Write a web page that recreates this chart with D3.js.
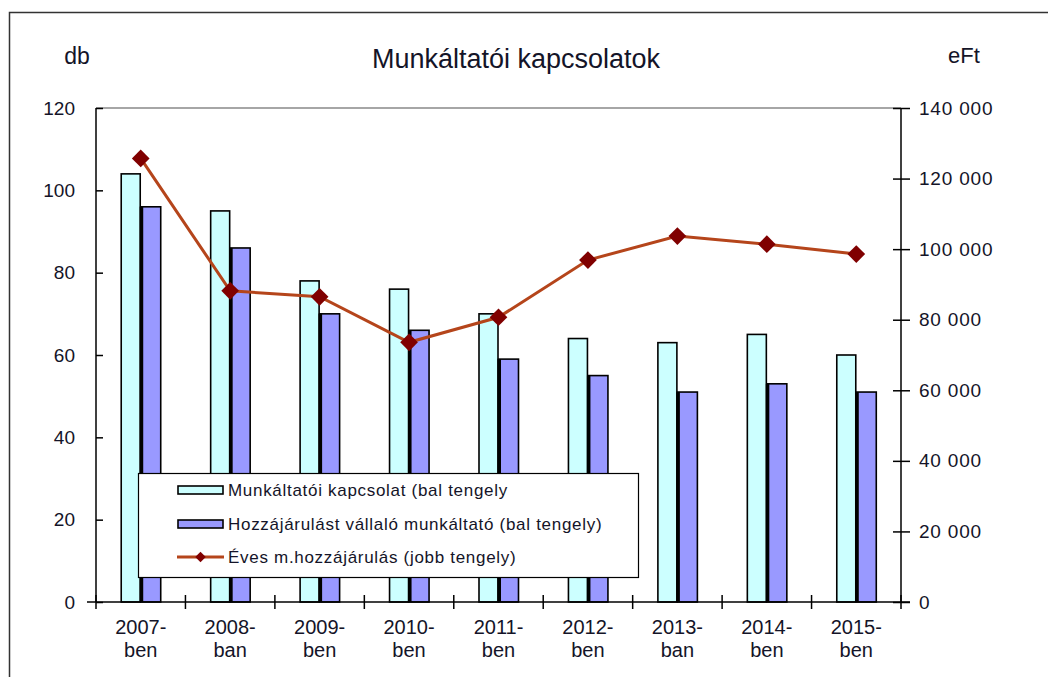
<!DOCTYPE html>
<html>
<head>
<meta charset="utf-8">
<script src="https://cdn.jsdelivr.net/npm/d3@7"></script>
<style>
  body { margin: 0; background: #fff; }
  svg { display: block; font-family: "Liberation Sans", Arial, sans-serif; }
</style>
</head>
<body>
<svg id="chart"></svg>
<script>
// data
let categories = ['2007-ben', '2008-ban', '2009-ben', '2010-ben', '2011-ben', '2012-ben', '2013-ban', '2014-ben', '2015-ben'];
let kapcsolat = [104, 95, 78, 76, 70, 64, 63, 65, 60];
let vallalo = [96, 86, 70, 66, 59, 55, 51, 53, 51];
let hozzajarulas = [125700, 88200, 86500, 73600, 80700, 96900, 103700, 101400, 98600];
let leftTicks = [0, 20, 40, 60, 80, 100, 120];
let rightTicks = [0, 20000, 40000, 60000, 80000, 100000, 120000, 140000];
let seriesNames = ['Munkáltatói kapcsolat (bal tengely', 'Hozzájárulást vállaló munkáltató (bal tengely)', 'Éves m.hozzájárulás (jobb tengely)'];

let width = 1048, height = 677;
let padding = { left: 96, right: 147, top: 108, bottom: 75 };
let colCyan = '#ccffff', colBlue = '#9999ff', colLine = '#b5451b', colMarker = '#800000';
let textCol = '#141428';

let svg = d3.select('#chart').attr('width', width).attr('height', height);

// outer frame (cut off on right and bottom like the source)
svg.append('rect')
    .attr('x', 9.5).attr('y', 12.5)
    .attr('width', 1100).attr('height', 700)
    .attr('fill', 'none').attr('stroke', '#333').attr('stroke-width', 1.5);

let x = d3.scaleBand()
    .domain(categories)
    .range([padding.left, width - padding.right]);
let xInner = d3.scaleBand()
    .domain([0, 1])
    .range([0, 40]);
let y = d3.scaleLinear().domain([0, 120]).range([height - padding.bottom, padding.top]);
let y2 = d3.scaleLinear().domain([0, 140000]).range([height - padding.bottom, padding.top]);

// top border of plot area
svg.append('line')
    .attr('x1', padding.left).attr('x2', width - padding.right)
    .attr('y1', y(120)).attr('y2', y(120))
    .attr('stroke', '#888').attr('stroke-width', 1.5);

// bars
let groups = svg.append('g').selectAll('g')
    .data(categories)
    .enter().append('g')
    .attr('transform', d => `translate(${x(d) + x.bandwidth() / 2 - 20},0)`);

groups.append('rect')
    .attr('x', xInner(0) + 0.5)
    .attr('y', (d, i) => y(kapcsolat[i]))
    .attr('width', xInner.bandwidth() - 1)
    .attr('height', (d, i) => y(0) - y(kapcsolat[i]))
    .attr('fill', colCyan).attr('stroke', '#000').attr('stroke-width', 1.6);

groups.append('rect')
    .attr('x', xInner(1))
    .attr('y', (d, i) => y(vallalo[i]))
    .attr('width', xInner.bandwidth())
    .attr('height', (d, i) => y(0) - y(vallalo[i]))
    .attr('fill', colBlue).attr('stroke', '#000').attr('stroke-width', 1.6);

// dark left edge on the blue bars
groups.append('rect')
    .attr('x', xInner(1) - 1)
    .attr('y', (d, i) => y(vallalo[i]))
    .attr('width', 3.5)
    .attr('height', (d, i) => y(0) - y(vallalo[i]))
    .attr('fill', '#000');

// line series
let cx = (d, i) => x(categories[i]) + x.bandwidth() / 2;
let line = d3.line()
    .x((d, i) => cx(d, i))
    .y(d => y2(d));
svg.append('path')
    .datum(hozzajarulas)
    .attr('d', line)
    .attr('fill', 'none')
    .attr('stroke', colLine)
    .attr('stroke-width', 3);

let diamond = d3.symbol().type(d3.symbolDiamond2).size(200);
svg.append('g').selectAll('path')
    .data(hozzajarulas)
    .enter().append('path')
    .attr('d', diamond)
    .attr('transform', (d, i) => `translate(${cx(d, i)},${y2(d)})`)
    .attr('fill', colMarker);

// left axis
let axisLeft = d3.axisLeft(y).tickValues(leftTicks).tickSize(9).tickPadding(12);
let gl = svg.append('g')
    .attr('transform', `translate(${padding.left},0)`)
    .call(axisLeft);
gl.selectAll('.tick line').attr('x2', 7);

// right axis
let axisRight = d3.axisRight(y2).tickValues(rightTicks).tickSize(9).tickPadding(9)
    .tickFormat(d => d3.format(',')(d).replace(/,/g, ' '));
let gr = svg.append('g')
    .attr('transform', `translate(${width - padding.right},0)`)
    .call(axisRight);
gr.selectAll('.tick line').attr('x1', -8);

// bottom axis
let gb = svg.append('g')
    .attr('transform', `translate(0,${height - padding.bottom})`);
gb.append('line')
    .attr('x1', padding.left - 9).attr('x2', width - padding.right + 9)
    .attr('stroke', '#000').attr('stroke-width', 1.5);
let boundaries = categories.map(c => x(c)).concat([width - padding.right]);
gb.selectAll('line.tk')
    .data(boundaries)
    .enter().append('line')
    .attr('class', 'tk')
    .attr('x1', d => d).attr('x2', d => d)
    .attr('y1', -7).attr('y2', 7)
    .attr('stroke', '#000').attr('stroke-width', 1.5);

let xl = gb.selectAll('text')
    .data(categories)
    .enter().append('text')
    .attr('x', d => x(d) + x.bandwidth() / 2)
    .attr('y', 32)
    .attr('text-anchor', 'middle')
    .attr('font-size', 20)
    .attr('fill', textCol);
xl.append('tspan')
    .attr('x', d => x(d) + x.bandwidth() / 2)
    .text(d => d.split('-')[0] + '-');
xl.append('tspan')
    .attr('x', d => x(d) + x.bandwidth() / 2)
    .attr('dy', 23)
    .text(d => d.split('-')[1]);

[gl, gr].forEach(g => {
    g.select('.domain').attr('stroke', '#000').attr('stroke-width', 1.5).attr('d',
        `M0,${y(120)}V${y(0)}`);
    g.selectAll('.tick line').attr('stroke', '#000').attr('stroke-width', 1.5);
    g.selectAll('.tick text').attr('font-size', 19).attr('fill', textCol)
        .attr('font-family', '"Liberation Sans", Arial, sans-serif');
});
gr.selectAll('.tick text').attr('letter-spacing', 0.8);

// titles
svg.append('text')
    .attr('x', 516).attr('y', 68)
    .attr('text-anchor', 'middle')
    .attr('font-size', 27)
    .attr('fill', textCol)
    .text('Munkáltatói kapcsolatok');
svg.append('text')
    .attr('x', 77).attr('y', 64)
    .attr('text-anchor', 'middle')
    .attr('font-size', 23)
    .attr('fill', textCol)
    .text('db');
svg.append('text')
    .attr('x', 964).attr('y', 63)
    .attr('text-anchor', 'middle')
    .attr('font-size', 22)
    .attr('fill', textCol)
    .text('eFt');

// legend
let lg = svg.append('g').attr('transform', 'translate(138,473)');
lg.append('rect')
    .attr('x', 0.5).attr('y', 0.5)
    .attr('width', 500).attr('height', 104)
    .attr('fill', '#fff').attr('stroke', '#000').attr('stroke-width', 1.2);

let rowY = [17, 51, 84];
[colCyan, colBlue].forEach((c, i) => {
    lg.append('rect')
        .attr('x', 40).attr('y', rowY[i] - 4)
        .attr('width', 45).attr('height', 8)
        .attr('fill', c).attr('stroke', '#000').attr('stroke-width', 1.6);
});
lg.append('line')
    .attr('x1', 39).attr('x2', 86)
    .attr('y1', rowY[2]).attr('y2', rowY[2])
    .attr('stroke', colLine).attr('stroke-width', 3);
lg.append('path')
    .attr('d', d3.symbol().type(d3.symbolDiamond2).size(70))
    .attr('transform', `translate(62.5,${rowY[2]})`)
    .attr('fill', colMarker);

lg.selectAll('text.lt')
    .data(seriesNames)
    .enter().append('text')
    .attr('class', 'lt')
    .attr('x', 90)
    .attr('y', (d, i) => rowY[i] + 6)
    .attr('font-size', 17)
    .attr('letter-spacing', 0.7)
    .attr('fill', textCol)
    .text(d => d);
</script>
</body>
</html>
